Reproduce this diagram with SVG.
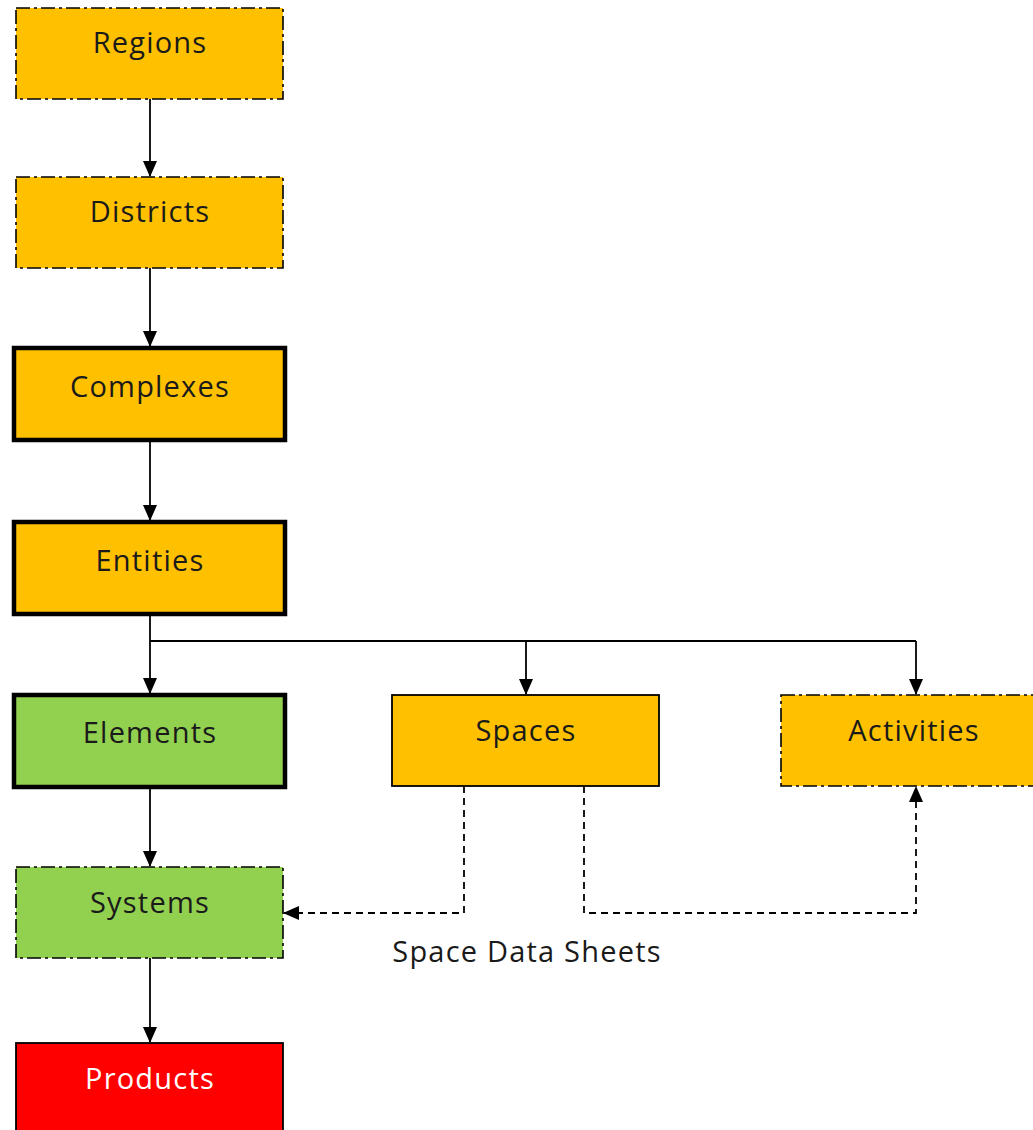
<svg xmlns="http://www.w3.org/2000/svg" width="1033" height="1130" viewBox="0 0 1033 1130">
<defs>
<marker id="ah" markerWidth="16" markerHeight="16" refX="15" refY="8" orient="auto" markerUnits="userSpaceOnUse">
<path d="M0,1 L16,8 L0,15 Z" fill="#000"/>
</marker>
<style>
.box{stroke:#000}
.dd{stroke-width:1.6;stroke-dasharray:14 4 3 4}
.thick{stroke-width:4.5}
.thin{stroke-width:1.8}
.or{fill:#FFC000}
.gr{fill:#92D050}
.rd{fill:#FF0000}
.lbl{font-family:"Open Sans","Liberation Sans",sans-serif;font-size:29px;letter-spacing:1.2px;text-anchor:middle;fill:#1a1a1a}
.wl{fill:#fff}
.c{fill:none;stroke:#000;stroke-width:1.8}
.dash{stroke-dasharray:7 5}
</style>
</defs>
<rect width="1033" height="1130" fill="#fff"/>
<g id="regions"><rect class="box or dd" x="16" y="8" width="267" height="91"/><text class="lbl" x="150" y="53">Regions</text></g>
<g id="districts"><rect class="box or dd" x="16" y="177" width="267" height="91"/><text class="lbl" x="150" y="222">Districts</text></g>
<g id="complexes"><rect class="box or thick" x="14" y="348" width="271" height="92"/><text class="lbl" x="150" y="397">Complexes</text></g>
<g id="entities"><rect class="box or thick" x="14" y="522" width="271" height="92"/><text class="lbl" x="150" y="571">Entities</text></g>
<g id="elements"><rect class="box gr thick" x="14" y="695" width="271" height="92"/><text class="lbl" x="150" y="743">Elements</text></g>
<g id="spaces"><rect class="box or thin" x="392" y="695" width="267" height="91"/><text class="lbl" x="526" y="741">Spaces</text></g>
<g id="activities"><rect class="box or dd" x="781" y="695" width="260" height="91"/><text class="lbl" x="914" y="741">Activities</text></g>
<g id="systems"><rect class="box gr dd" x="16" y="867" width="267" height="91"/><text class="lbl" x="150" y="913">Systems</text></g>
<g id="products"><rect class="box rd thin" x="16" y="1043" width="267" height="95"/><text class="lbl wl" x="150" y="1089">Products</text></g>
<g id="connectors">
<path class="c" d="M150,99 V176" marker-end="url(#ah)"/>
<path class="c" d="M150,268 V346" marker-end="url(#ah)"/>
<path class="c" d="M150,442 V520" marker-end="url(#ah)"/>
<path class="c" d="M150,616 V693" marker-end="url(#ah)"/>
<path class="c" d="M150,641 H916"/>
<path class="c" d="M526,641 V694" marker-end="url(#ah)"/>
<path class="c" d="M916,641 V694" marker-end="url(#ah)"/>
<path class="c" d="M150,789 V866" marker-end="url(#ah)"/>
<path class="c" d="M150,958 V1042" marker-end="url(#ah)"/>
<path class="c dash" d="M464,786 V913 H284" marker-end="url(#ah)"/>
<path class="c dash" d="M584,786 V913 H916 V787" marker-end="url(#ah)"/>
<text class="lbl" x="527" y="962">Space Data Sheets</text>
</g>
</svg>
